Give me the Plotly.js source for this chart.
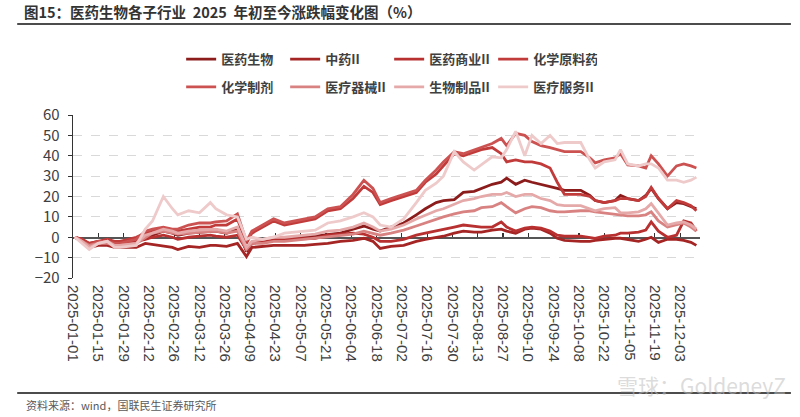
<!DOCTYPE html>
<html>
<head>
<meta charset="utf-8">
<script src="https://cdn.plot.ly/plotly-3.0.1.min.js"></script>
<style>html,body{margin:0;padding:0;background:#fff;}#chart{width:800px;height:417px;}</style>
</head>
<body>
<div id="chart"></div>
<script>
// ---- data ----
const dates = ['2025-01-02','2025-01-06','2025-01-10','2025-01-15','2025-01-20','2025-01-24','2025-01-27','2025-02-05','2025-02-10','2025-02-14','2025-02-20','2025-02-25','2025-02-28','2025-03-06','2025-03-12','2025-03-18','2025-03-21','2025-03-27','2025-04-02','2025-04-07','2025-04-10','2025-04-16','2025-04-22','2025-04-28','2025-05-09','2025-05-15','2025-05-22','2025-05-29','2025-06-05','2025-06-11','2025-06-16','2025-06-20','2025-06-26','2025-07-03','2025-07-10','2025-07-15','2025-07-21','2025-07-25','2025-07-31','2025-08-05','2025-08-11','2025-08-15','2025-08-21','2025-08-26','2025-08-29','2025-09-03','2025-09-08','2025-09-12','2025-09-17','2025-09-22','2025-09-26','2025-09-30','2025-10-09','2025-10-14','2025-10-17','2025-10-22','2025-10-28','2025-10-31','2025-11-04','2025-11-10','2025-11-14','2025-11-17','2025-11-21','2025-11-26','2025-12-01','2025-12-05','2025-12-09','2025-12-12'];

const yiyaoShengwu = [0,-2,-4,-3,-3,-4,-4,-3,0,1,3,2,1,2,2.5,3,3,2,4,-7,-3,-2,-1,-1,0,0.5,1,2,4,5.5,4,3,5,7,11,14,17,18,18.5,22,22.5,24,26,27,29,26,28,27,26,25,24,23,23,20.5,18,17,18,20.5,19,18,20.5,24,19,14,17,16.5,15,14];
const zhongyao = [0,-1,-5,-4,-4,-5,-5,-5,-3,-3.5,-4.5,-5,-6,-4.5,-5,-4,-4,-4.5,-3,-9.5,-5,-4.5,-4,-4,-4,-3.5,-3,-2,-1.5,-0.5,-2,-5.5,-4.5,-4,-2,-1,0,0.5,2,3,2.5,2.5,3.5,4,3,2,4,4.5,4,2,-0.5,-1.5,-2,-2,-1.5,-1,-0.5,-0.5,-1,-2,-1,0,-2.5,-1,-1,-1.5,-2.5,-4];
const yiyaoShangye = [0,-1,-3,-2,-2,-3,-3,-2,-1,0,1,0,-1,0,0.5,1,0.5,0,1,-6,-3,-2,-1,-1,-0.5,-0.5,1,1.5,2,1.5,0,-2,-2,-1,1,2,3,4,5,6,5.5,5,5,7.5,5,3,4.5,5,4.5,3,1,0.5,0.5,0,-0.5,0.5,1,2,2,2.5,3.5,7.5,3,0,1,8,7,3];
const huaxueYuanliao = [0,-1,-3,-2,-1,-2,-2,0,2,3,4,3,3,4,5,5,6,6,9,-3,2,5,8,6,8,9,13,14,19,25,22,16,18,20,22,27,31,35,41,40,42,43,44,41,37,38,37,37,36,34,27,21,21,20,18,17,18,19,19,18,20,24.5,19,14,18,17,15.5,13];
const huaxueZhiji = [0,-2,-4,-2,-2,-3,-3,-1,3,4,5,4,4,6,7,7,7.5,8,11.5,-2,3,6,9,7,9,10,14,15,21,28,24,17,19,21,23,28,33,37,42,41,43,44,46,48.5,45,51,50,47,45,44,43,42,42,39,36.5,38,39,41,35.5,35,34,40,36,30,35,36,35,34];
const yiliaoQixie = [0,-2,-4,-3,-3,-4,-4,-3,0,2,3,2,1.5,2,2.5,3,3,2,3,-6,-3,-3,-2,-2,-1,-0.5,0,0.5,1.5,3,2,1,2,3.5,5.5,7,9,10,11.5,12.5,13,14.5,15,17,15,12,14,15,14.5,13,12.5,12.5,13,13,12.5,12,11.5,11,10.5,10.5,11,12.5,8,5,6,7,5,3];
const shengwuZhipin = [0,-2,-5,-3,-2,-4,-4,-3,1,2,4,3,2,3,3.5,4,4,3,5,-5,-2,-1,0,0,1,1.5,3,3.5,5,7,5,3,4,6,9,11,13,14,16,18,19,20,21,21,22,20,21,21,19,18,16,15.5,15.5,14,13,14,14.5,12,12,12.5,14,16.5,12,6,7,7.5,6,4];
const yiliaoFuwu = [0,-3,-6,-3,-2,-5,-5,-4,4,8,20,14,11,13,12,17,14,11,10,-1,0,-1,0,2,3,3.5,7,8,10,12,10,6,5,9,17,23,26.5,30,42,37,33,35.5,39.5,39,43,52,40,50,46,50,46,46.5,46.5,38,34,37,38,43,36,35,36,36,34,28,28,27,28,29.5];

const seriesNames = ['医药生物','中药II','医药商业II','化学原料药','化学制剂','医疗器械II','生物制品II','医疗服务II'];
const seriesValues = [yiyaoShengwu, zhongyao, yiyaoShangye, huaxueYuanliao, huaxueZhiji, yiliaoQixie, shengwuZhipin, yiliaoFuwu];
const seriesColors = ['#8c1c1c','#a52424','#b83030','#c23b3b','#cc5252','#d98282','#e5a9a9','#efcaca'];

const titleText = '图15：医药生物各子行业  2025  年初至今涨跌幅变化图（%）';
const sourceText = '资料来源：wind，国联民生证券研究所';

// ---- build ----
const FONT = '"Noto Sans CJK SC", "Noto Sans", sans-serif';
const traces = seriesNames.map((n, i) => ({
  type: 'scatter', mode: 'lines', name: n,
  x: dates, y: seriesValues[i],
  line: {color: seriesColors[i], width: 2.8},
  legend: i < 4 ? 'legend' : 'legend2',
  hoverinfo: 'skip'
}));
// invisible helper trace so the zero-position axis (ticks on y=0) is drawn
traces.push({type:'scatter', mode:'lines', x: dates, y: seriesValues[0], xaxis:'x2', yaxis:'y',
  line:{width:0}, opacity:0, showlegend:false, hoverinfo:'skip'});

const xr = ['2025-01-01','2025-12-14'];
const legendCommon = {orientation:'h', xanchor:'left', yanchor:'middle', entrywidth:59, entrywidthmode:'pixels',
  itemwidth:30, font:{family:FONT, size:13, color:'#404040', weight:'bold'}, bgcolor:'rgba(0,0,0,0)', tracegroupgap:0};

const layout = {
  width: 800, height: 417,
  margin: {l:73, r:100, t:115, b:139},
  paper_bgcolor:'#fff', plot_bgcolor:'#fff',
  font: {family: FONT, color:'#404040'},
  showlegend: true,
  title: {text: titleText, x: 0.03, xanchor:'left', y: 0.968, yanchor:'middle', yref:'container',
    font:{family:FONT, size:14.5, color:'#333', weight:'bold'}},
  legend: Object.assign({x: 0.1725, y: 1.343}, legendCommon),
  legend2: Object.assign({x: 0.1725, y: 1.172}, legendCommon),
  xaxis: {type:'date', range: xr, tick0:'2025-01-01', dtick: 14*86400000, tickformat:'%Y-%m-%d',
    tickangle: 90, ticks:'', showline:false, showgrid:false, zeroline:false, ticklabelstandoff: 6,
    tickfont:{family:'"Liberation Sans", Arial, sans-serif', size:15, color:'#404040'}},
  xaxis2: {type:'date', overlaying:'x', anchor:'free', position:0.25, range: xr, tick0:'2025-01-01', dtick:14*86400000,
    showticklabels:false, ticks:'inside', ticklen:4, tickwidth:1.2, tickcolor:'#333',
    showline:true, linecolor:'#555', linewidth:1.5, showgrid:false, zeroline:false, layer:'below traces'},
  yaxis: {range:[-20,60], dtick:10, ticks:'outside', ticklen:4, tickcolor:'#333', showline:true, linecolor:'#333',
    linewidth:1.3, showgrid:true, gridcolor:'#d9d9d9', griddash:'dash', gridwidth:1, zeroline:false, ticklabelstandoff: 5,
    tickfont:{family:FONT, size:15, color:'#404040'}},
  shapes: [
    {type:'line', xref:'paper', yref:'paper', x0:-0.089, x1:1.145, y0:1.558, y1:1.558, line:{color:'#111', width:1.6}},
    {type:'line', xref:'paper', yref:'paper', x0:-0.089, x1:1.145, y0:-0.7055, y1:-0.7055, line:{color:'#111', width:1.6}}
  ],
  annotations: [
    {text: sourceText, xref:'paper', yref:'paper', x:-0.078, y:-0.78, xanchor:'left', yanchor:'middle', showarrow:false,
      font:{family:FONT, size:11, color:'#595959'}},
    {text: '雪球：GoldeneyZ', xref:'paper', yref:'paper', x:1.14, y:-0.655, xanchor:'right', yanchor:'middle', showarrow:false,
      font:{family:FONT, size:21, color:'rgba(190,190,190,0.55)'}}
  ]
};

Plotly.newPlot('chart', traces, layout, {displayModeBar:false, staticPlot:true});
</script>
</body>
</html>
